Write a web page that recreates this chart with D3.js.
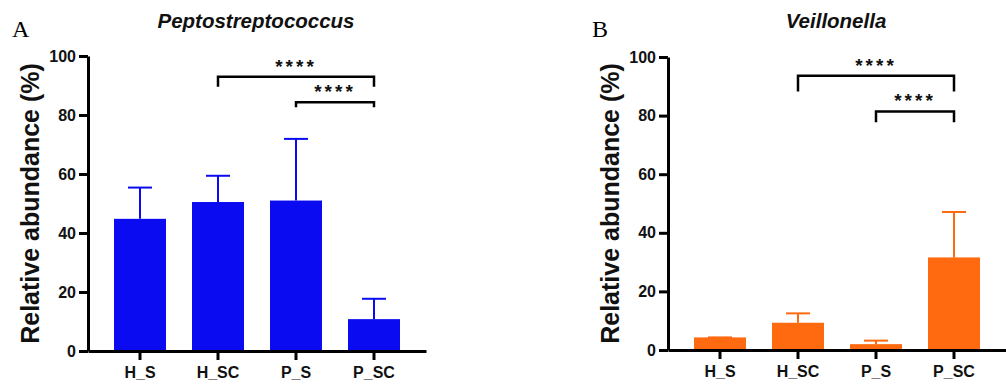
<!DOCTYPE html>
<html>
<head>
<meta charset="utf-8">
<script src="https://cdn.jsdelivr.net/npm/d3@7"></script>
<style>
  body { margin: 0; background: #fff; }
  svg text { font-family: "Liberation Sans", Arial, sans-serif; }
</style>
</head>
<body>
<svg id="chart" width="1006" height="385"></svg>
<script>
// groups on the x axis
const groups = ['H_S', 'H_SC', 'P_S', 'P_SC']
const yTicks = [0, 20, 40, 60, 80, 100]

// Panel A: Peptostreptococcus (mean, and top of error bar)
const peptoMean = [44.8, 50.5, 51.0, 10.8]
const peptoUpper = [55.4, 59.4, 71.9, 17.7]

// Panel B: Veillonella
const veilMean = [4.3, 9.3, 2.0, 31.6]
const veilUpper = [4.3, 12.5, 3.2, 47.1]

// significance brackets: [from, to]
const comparisons = [['H_SC', 'P_SC'], ['P_S', 'P_SC']]
const sigLabels = ['****', '****']
const peptoBracketY = [93.0, 84.3]
const peptoBracketTip = [89.6, 82.6]
const veilBracketY = [93.6, 81.4]
const veilBracketTip = [88.2, 77.7]

const svg = d3.select('#chart')
svg.append('rect').attr('width', 1006).attr('height', 385).attr('fill', '#fff')

function drawPanel(opts) {
    let g = svg.append('g').attr('transform', `translate(${opts.left}, 0)`)

    // Scales
    let x = d3.scaleBand()
        .domain(groups)
        .range([88, 426])
        .paddingInner(1 / 3)
        .paddingOuter(1 / 3)
    let y = d3.scaleLinear()
        .domain([0, 100])
        .range([opts.y0, opts.y100])
    let cx = d => x(d) + x.bandwidth() / 2

    let data = groups.map((k, i) => ({ k: k, mean: opts.mean[i], upper: opts.upper[i] }))

    // error bars (drawn first so bar covers the lower part)
    g.selectAll('.err')
        .data(data)
        .enter()
        .append('line')
        .attr('x1', d => cx(d.k))
        .attr('x2', d => cx(d.k))
        .attr('y1', d => y(d.mean))
        .attr('y2', d => y(d.upper))
        .attr('stroke', opts.color)
        .attr('stroke-width', 2)
    g.selectAll('.cap')
        .data(data)
        .enter()
        .append('line')
        .attr('x1', d => cx(d.k) - 12)
        .attr('x2', d => cx(d.k) + 12)
        .attr('y1', d => y(d.upper))
        .attr('y2', d => y(d.upper))
        .attr('stroke', opts.color)
        .attr('stroke-width', 2)

    // bars
    g.selectAll('.bar')
        .data(data)
        .enter()
        .append('rect')
        .attr('x', d => x(d.k))
        .attr('width', x.bandwidth())
        .attr('y', d => y(d.mean))
        .attr('height', d => y(0) - y(d.mean))
        .attr('fill', opts.color)

    // axes
    let yAxis = d3.axisLeft(y)
        .tickValues(yTicks)
        .tickSizeInner(9)
        .tickSizeOuter(0)
        .tickPadding(3)
    let ax = g.append('g')
        .attr('transform', 'translate(88, 0)')
        .call(yAxis)
    ax.selectAll('path, line').attr('stroke', '#000').attr('stroke-width', 3)
    ax.selectAll('text')
        .attr('font-size', '16px')
        .attr('font-weight', 'bold')
        .attr('fill', '#111')

    let xAxis = d3.axisBottom(x)
        .tickSizeInner(9)
        .tickSizeOuter(0)
        .tickPadding(7)
    let bx = g.append('g')
        .attr('transform', `translate(0, ${y(0)})`)
        .call(xAxis)
    bx.selectAll('path, line').attr('stroke', '#000').attr('stroke-width', 3)
    bx.selectAll('text')
        .attr('font-size', '16px')
        .attr('font-weight', 'bold')
        .attr('fill', '#111')

    // y axis title
    g.append('text')
        .attr('transform', `translate(39, ${(y(0) + y(100)) / 2}) rotate(-90)`)
        .attr('text-anchor', 'middle')
        .attr('font-size', '25px')
        .attr('font-weight', 'bold')
        .attr('fill', '#111')
        .text('Relative abundance (%)')

    // panel title
    g.append('text')
        .attr('x', 256)
        .attr('y', 28)
        .attr('text-anchor', 'middle')
        .attr('font-size', '20.5px')
        .attr('font-weight', 'bold')
        .attr('font-style', 'italic')
        .attr('fill', '#111')
        .text(opts.title)

    // panel letter
    g.append('text')
        .attr('x', 12)
        .attr('y', 37)
        .style('font-family', '"Liberation Serif", "Times New Roman", serif')
        .attr('font-size', '24px')
        .attr('fill', '#000')
        .text(opts.letter)

    // significance brackets
    comparisons.forEach((c, i) => {
        let x1 = cx(c[0]), x2 = cx(c[1])
        let yl = y(opts.bracketY[i]), yt = y(opts.bracketTip[i])
        g.append('path')
            .attr('d', `M${x1},${yt}V${yl}H${x2}V${yt}`)
            .attr('fill', 'none')
            .attr('stroke', '#000')
            .attr('stroke-width', 2.5)
        g.append('text')
            .attr('x', (x1 + x2) / 2)
            .attr('y', yl - 4)
            .attr('text-anchor', 'middle')
            .attr('font-size', '19px')
            .attr('font-weight', 'bold')
            .attr('letter-spacing', '3px')
            .attr('fill', '#111')
            .text(sigLabels[i])
    })
}

drawPanel({
    left: 0, y0: 351, y100: 56, color: '#0b0bf2',
    mean: peptoMean, upper: peptoUpper,
    bracketY: peptoBracketY, bracketTip: peptoBracketTip,
    title: 'Peptostreptococcus', letter: 'A'
})
drawPanel({
    left: 580, y0: 350, y100: 57, color: '#ff6a10',
    mean: veilMean, upper: veilUpper,
    bracketY: veilBracketY, bracketTip: veilBracketTip,
    title: 'Veillonella', letter: 'B'
})
</script>
</body>
</html>
